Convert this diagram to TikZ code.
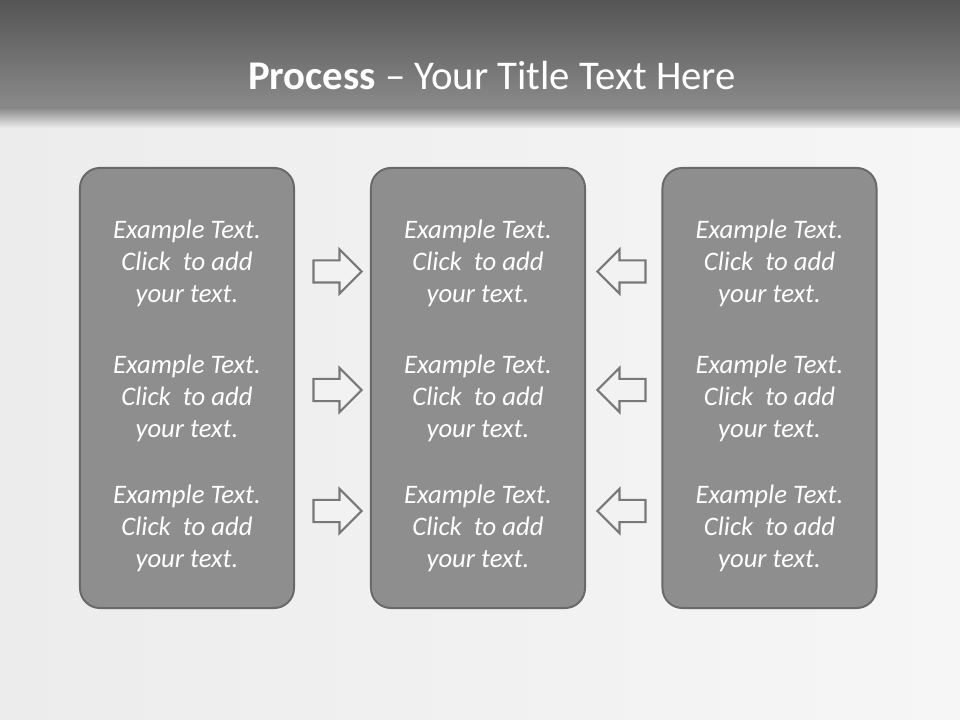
\documentclass[tikz,border=0pt]{standalone}
\usepackage{fontspec}
\setmainfont{Carlito}
\usetikzlibrary{positioning,shapes.arrows}
\definecolor{hdrtop}{RGB}{85,85,85}
\definecolor{hdrbot}{RGB}{138,138,138}
\definecolor{bgl}{RGB}{236,236,236}
\definecolor{bgr}{RGB}{246,246,246}
\definecolor{boxf}{RGB}{142,142,142}
\definecolor{boxd}{RGB}{105,105,105}
\definecolor{arrf}{RGB}{242,242,242}
\definecolor{arrd}{RGB}{120,120,120}

\begin{document}
\begin{tikzpicture}[x=0.025cm,y=-0.025cm,
  boxs/.style={draw=boxd,line width=1.4pt,fill=boxf,rounded corners=0.5cm,minimum width=5.35cm,minimum height=11cm},
  txts/.style={text=white,align=center,font=\fontsize{19}{22.8}\selectfont\itshape},
  arrs/.style={single arrow,draw=arrd,line width=1.5pt,fill=arrf,inner xsep=0pt,inner ysep=0.25cm,minimum height=1.2cm,single arrow head extend=0.275cm,single arrow head indent=0pt}]
  % background and header
  \path[left color=bgl,right color=bgr] (0,0) rectangle (960,720);
  \path[top color=hdrtop,bottom color=hdrbot] (0,0) rectangle (960,108);
  \path[top color=hdrbot,bottom color=bgl] (0,108) rectangle (960,128);
  \useasboundingbox (0,0) rectangle (960,720);
  \node[text=white,font=\fontsize{29}{32}\selectfont] (title) at (492,75) {\textbf{Process} -- Your Title Text Here};
  % boxes
  \node[boxs] (lbox) at (187,388) {};
  \node[boxs] (mbox) at (478,388) {};
  \node[boxs] (rbox) at (769.5,388) {};
  \foreach \b in {lbox,mbox,rbox}{
    \node[txts] (\b-1) at (\b.center |- 0,263) {Example Text.\\Click\ \ to add\\your text.};
    \node[txts] (\b-2) at (\b.center |- 0,398) {Example Text.\\Click\ \ to add\\your text.};
    \node[txts] (\b-3) at (\b.center |- 0,528) {Example Text.\\Click\ \ to add\\your text.};
  }
  % arrows
  \foreach \i/\y in {1/271.5,2/390,3/511}{
    \node[arrs] (ra\i) at (332,\y) {};
    \node[arrs,shape border rotate=180] (la\i) at (627,\y) {};
  }
\end{tikzpicture}
\end{document}
